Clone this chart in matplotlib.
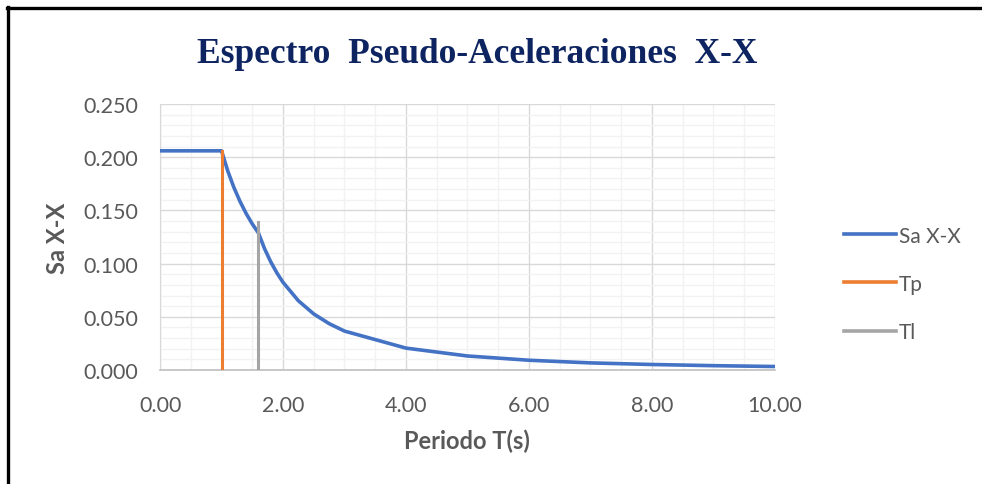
import matplotlib
matplotlib.use("Agg")
import matplotlib.pyplot as plt
from matplotlib.ticker import MultipleLocator, FormatStrFormatter
from matplotlib.lines import Line2D

# Data
periods = [0.0, 0.5, 1.0, 1.1, 1.2, 1.3, 1.4, 1.5, 1.6, 1.7, 1.8, 1.9, 2.0,
           2.25, 2.5, 2.75, 3.0, 4.0, 5.0, 6.0, 7.0, 8.0, 9.0, 10.0]
sa_xx = [0.206, 0.206, 0.206, 0.1873, 0.1717, 0.1585, 0.1471, 0.1373, 0.1288,
         0.1140, 0.1017, 0.0913, 0.0824, 0.0651, 0.0527, 0.0436, 0.0366,
         0.0206, 0.0132, 0.0092, 0.0067, 0.0052, 0.0041, 0.0033]
tp_x = [1.0, 1.0]
tp_y = [0.0, 0.206]
tl_x = [1.6, 1.6]
tl_y = [0.0, 0.139]

series_names = ["Sa X-X", "Tp", "Tl"]
title = "Espectro  Pseudo-Aceleraciones  X-X"
xlabel = "Periodo T(s)"
ylabel = "Sa X-X"

label_font = ["Lato", "DejaVu Sans"]
gray_txt = "#595959"

fig = plt.figure(figsize=(9.82, 4.85), dpi=100)
ax = fig.add_axes([0.163, 0.235, 0.626, 0.5485])

ax.plot(periods, sa_xx, color="#4472C4", lw=2.6, solid_capstyle="round", zorder=3)
ax.plot(tp_x, tp_y, color="#ED7D31", lw=2.2, zorder=4)
ax.plot(tl_x, tl_y, color="#A5A5A5", lw=2.2, zorder=4)

ax.set_xlim(0, 10)
ax.set_ylim(0, 0.25)
ax.xaxis.set_major_locator(MultipleLocator(2))
ax.xaxis.set_minor_locator(MultipleLocator(0.5))
ax.yaxis.set_major_locator(MultipleLocator(0.05))
ax.yaxis.set_minor_locator(MultipleLocator(0.01))
ax.xaxis.set_major_formatter(FormatStrFormatter("%.2f"))
ax.yaxis.set_major_formatter(FormatStrFormatter("%.3f"))
ax.grid(which="minor", color="#F2F2F2", lw=1.0, zorder=0)
ax.grid(which="major", color="#D9D9D9", lw=1.0, zorder=1)
ax.set_axisbelow(True)
ax.tick_params(which="both", length=0)
ax.tick_params(axis="x", pad=18)
ax.tick_params(axis="y", pad=16)
for lab in ax.get_xticklabels() + ax.get_yticklabels():
    lab.set_fontfamily(label_font)
    lab.set_fontsize(15.5)
    lab.set_color(gray_txt)
for s in ["top", "right"]:
    ax.spines[s].set_visible(False)
ax.spines["left"].set_color("#D9D9D9")
ax.spines["bottom"].set_color("#BFBFBF")
ax.spines["bottom"].set_linewidth(1.2)

ax.set_xlabel(xlabel, fontsize=17, fontweight="bold", color=gray_txt,
              family=label_font, labelpad=10)
ax.set_ylabel(ylabel, fontsize=17, fontweight="bold", color=gray_txt,
              family=label_font, labelpad=10)

fig.text(0.486, 0.887, title, ha="center", va="center", fontsize=25.5,
         fontweight="bold", color="#0D2461", family=["Liberation Serif", "DejaVu Serif"])

handles = [Line2D([], [], color=c, lw=2.6) for c in ["#4472C4", "#ED7D31", "#A5A5A5"]]
leg = fig.legend(handles, series_names, loc="center left", bbox_to_anchor=(0.84, 0.413),
                 frameon=False, handlelength=2.5, handletextpad=0.15, labelspacing=1.35,
                 prop={"family": label_font, "size": 15})
for t in leg.get_texts():
    t.set_color(gray_txt)

# border lines of the original image frame
fig.add_artist(Line2D([0.0075, 1.0], [0.982, 0.982], color="black", lw=2.4,
                      transform=fig.transFigure))
fig.add_artist(Line2D([0.0085, 0.0085], [0.0, 0.983], color="black", lw=2.4,
                      transform=fig.transFigure))

fig.savefig("out.png", dpi=100)
